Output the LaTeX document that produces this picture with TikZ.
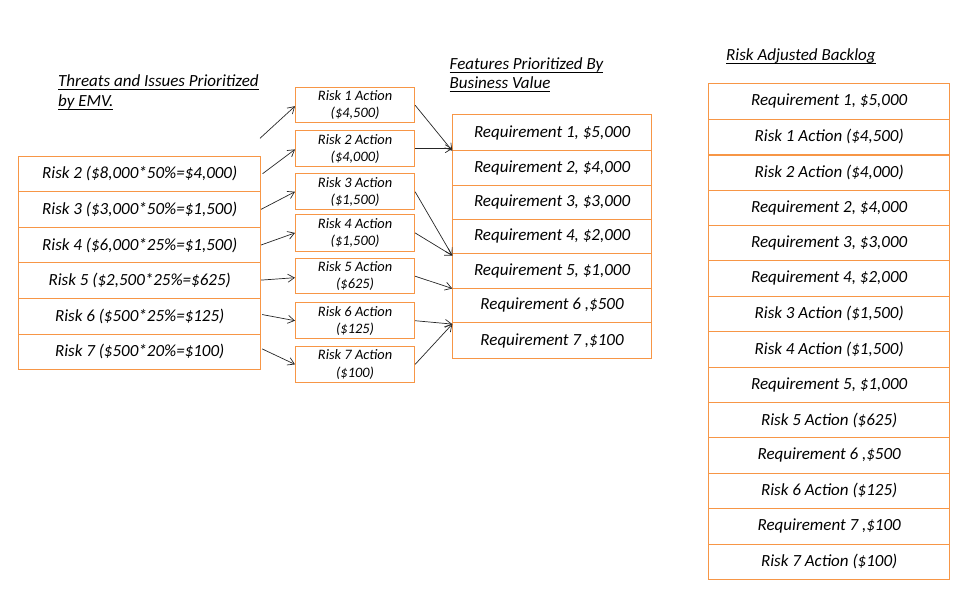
\documentclass[tikz,border=0pt]{standalone}
\usepackage{fontspec}
\setmainfont{Carlito}
\usetikzlibrary{arrows.meta,calc}
\definecolor{cellorange}{HTML}{F79646}
\newcommand\ulx[1]{\setbox0\hbox{#1}\rlap{\rule[-2.8pt]{\wd0}{0.8pt}}\box0}
\begin{document}
\begin{tikzpicture}[x=1pt,y=-1pt,
  cell/.style={draw=cellorange, line width=0.8pt, rectangle, inner sep=0pt, anchor=north west,
    font=\fontsize{17}{20}\selectfont\itshape, text=black},
  leftcell/.style={cell, minimum width=242pt, minimum height=35.63pt},
  actcell/.style={cell, minimum width=119.3pt, align=center, font=\fontsize{14.4}{17.4}\selectfont\itshape},
  reqcell/.style={cell, minimum width=198.7pt},
  backcell/.style={cell, minimum width=241pt, minimum height=35.41pt},
  titletext/.style={anchor=base west, inner sep=0pt, font=\fontsize{17}{20}\selectfont\itshape, text=black},
  arr/.style={draw=black!85, line width=0.7pt, -{Straight Barb[length=6.5pt,width=8pt,line width=0.7pt]}}
]
\useasboundingbox (0,0) rectangle (978,602);

% titles
\node[titletext] (t1a) at (58,86.6) {\ulx{Threats and Issues Prioritized}};
\node[titletext] (t1b) at (58,106.6) {\ulx{by EMV.}};
\node[titletext] (t2a) at (449.5,69.6) {\ulx{Features Prioritized By}};
\node[titletext] (t2b) at (449.5,88.6) {\ulx{Business Value}};
\node[titletext] (t3) at (726,60.6) {\ulx{Risk Adjusted Backlog}};

% left column
\node[leftcell] (l2) at (18.3,155.5) {Risk 2 (\$8,000*50\%=\$4,000)};
\node[leftcell] (l3) at (18.3,191.13) {Risk 3 (\$3,000*50\%=\$1,500)};
\node[leftcell] (l4) at (18.3,226.76) {Risk 4 (\$6,000*25\%=\$1,500)};
\node[leftcell] (l5) at (18.3,262.39) {Risk 5 (\$2,500*25\%=\$625)};
\node[leftcell] (l6) at (18.3,298.02) {Risk 6 (\$500*25\%=\$125)};
\node[leftcell] (l7) at (18.3,333.65) {Risk 7 (\$500*20\%=\$100)};

% action boxes
\node[actcell, minimum height=35pt] (a1) at (295,87.3) {Risk 1 Action\\(\$4,500)};
\node[actcell, minimum height=36pt] (a2) at (295,130.3) {Risk 2 Action\\(\$4,000)};
\node[actcell, minimum height=36pt] (a3) at (295,173.3) {Risk 3 Action\\(\$1,500)};
\node[actcell, minimum height=36.4pt] (a4) at (295,214.3) {Risk 4 Action\\(\$1,500)};
\node[actcell, minimum height=35pt] (a5) at (295,258.3) {Risk 5 Action\\(\$625)};
\node[actcell, minimum height=36pt] (a6) at (295,302.3) {Risk 6 Action\\(\$125)};
\node[actcell, minimum height=36pt] (a7) at (295,346) {Risk 7 Action\\(\$100)};

% requirements
\node[reqcell, minimum height=35.7pt] (r1) at (452.3,114.3) {Requirement 1, \$5,000};
\node[reqcell, minimum height=35.3pt] (r2) at (452.3,150) {Requirement 2, \$4,000};
\node[reqcell, minimum height=33.4pt] (r3) at (452.3,185.3) {Requirement 3, \$3,000};
\node[reqcell, minimum height=34.6pt] (r4) at (452.3,218.7) {Requirement 4, \$2,000};
\node[reqcell, minimum height=34.4pt] (r5) at (452.3,253.3) {Requirement 5, \$1,000};
\node[reqcell, minimum height=34.6pt] (r6) at (452.3,287.7) {Requirement 6 ,\$500};
\node[reqcell, minimum height=35.7pt] (r7) at (452.3,322.3) {Requirement 7 ,\$100};

% backlog
\node[backcell] (b1) at (708.3,83.3) {Requirement 1, \$5,000};
\node[backcell] (b2) at (708.3,118.71) {Risk 1 Action (\$4,500)};
\node[backcell] (b3) at (708.3,154.12) {Risk 2 Action (\$4,000)};
\node[backcell] (b4) at (708.3,189.53) {Requirement 2, \$4,000};
\node[backcell] (b5) at (708.3,224.94) {Requirement 3, \$3,000};
\node[backcell] (b6) at (708.3,260.35) {Requirement 4, \$2,000};
\node[backcell] (b7) at (708.3,295.76) {Risk 3 Action (\$1,500)};
\node[backcell] (b8) at (708.3,331.17) {Risk 4 Action (\$1,500)};
\node[backcell] (b9) at (708.3,366.58) {Requirement 5, \$1,000};
\node[backcell] (b10) at (708.3,401.99) {Risk 5 Action (\$625)};
\node[backcell] (b11) at (708.3,437.4) {Requirement 6 ,\$500};
\node[backcell] (b12) at (708.3,472.81) {Risk 6 Action (\$125)};
\node[backcell] (b13) at (708.3,508.22) {Requirement 7 ,\$100};
\node[backcell] (b14) at (708.3,543.63) {Risk 7 Action (\$100)};
\draw[cellorange, line width=1.8pt] (b2.south west) -- (b2.south east);

% arrows left -> actions
\coordinate (s1) at (260,138.3);
\draw[arr] (s1) -- ([yshift=-1pt]a1.west);
\draw[arr] ([xshift=1.5pt]l2.east) -- ([yshift=-0.7pt]a2.west);
\draw[arr] (l3.east) -- (a3.west);
\draw[arr] (l4.east) -- (a4.west);
\draw[arr] ([yshift=0.5pt]l5.east) -- ([yshift=-1.5pt]a5.west);
\draw[arr] ([xshift=1pt,yshift=1.7pt]l6.east) -- (a6.west);
\draw[arr] ([xshift=1pt,yshift=3pt]l7.east) -- (a7.west);

% arrows actions -> requirements
\draw[arr] (a1.east) -- (r1.south west);
\draw[arr] (a2.east) -- (a2.east -| r1.west);
\draw[arr] (a3.east) -- ([yshift=-1.5pt]r4.south west);
\draw[arr] (a4.east) -- ([yshift=-1.5pt]r4.south west);
\draw[arr] (a5.east) -- (r5.south west);
\draw[arr] (a6.east) -- ([yshift=-1pt]r6.south west);
\draw[arr] (a7.east) -- ([yshift=-1pt]r6.south west);
\end{tikzpicture}
\end{document}
